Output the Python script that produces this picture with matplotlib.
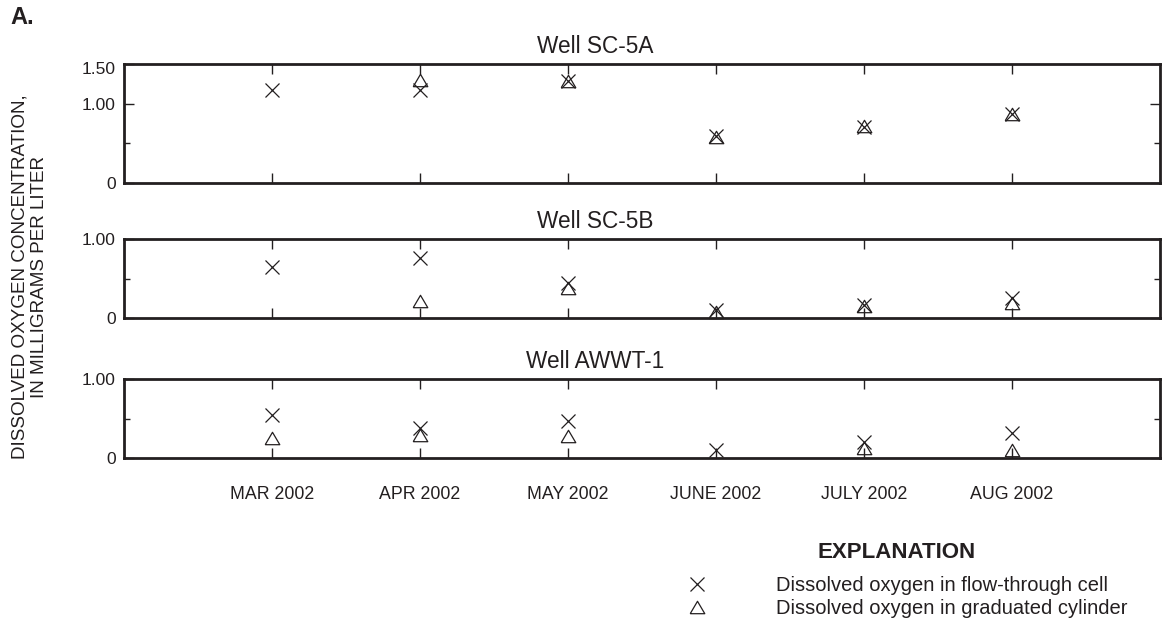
import numpy as np
import matplotlib
matplotlib.use("Agg")
import matplotlib.pyplot as plt
from matplotlib.ticker import FixedLocator
from matplotlib.transforms import ScaledTranslation

plt.rcParams['font.family'] = ['Liberation Sans', 'DejaVu Sans']

months = ['MAR 2002', 'APR 2002', 'MAY 2002', 'JUNE 2002', 'JULY 2002', 'AUG 2002']
wells = ['Well SC-5A', 'Well SC-5B', 'Well AWWT-1']

sc5a_flow = [1.17, 1.17, 1.29, 0.595, 0.70, 0.87]
sc5a_cyl = [np.nan, 1.30, 1.29, 0.58, 0.72, 0.87]
sc5b_flow = [0.65, 0.76, 0.44, 0.10, 0.17, 0.26]
sc5b_cyl = [np.nan, 0.22, 0.38, 0.08, 0.155, 0.19]
awwt_flow = [0.55, 0.38, 0.47, 0.105, 0.20, 0.32]
awwt_cyl = [0.25, 0.29, 0.28, np.nan, 0.13, 0.105]

flow = [sc5a_flow, sc5b_flow, awwt_flow]
cyl = [sc5a_cyl, sc5b_cyl, awwt_cyl]
ymax = [1.5, 1.0, 1.0]
major = [[0, 1.0, 1.5], [0, 1.0], [0, 1.0]]
major_lbl = [['0', '1.00', '1.50'], ['0', '1.00'], ['0', '1.00']]
minor = [[0.5], [0.5], [0.5]]

W, H = 1165, 627
fig = plt.figure(figsize=(W / 100, H / 100), dpi=100)

# axes pixel boxes (left, top, right, bottom)
boxes = [(124, 64, 1160, 183), (124, 239, 1160, 318.3), (124, 379, 1160, 458.3)]
ink = '#231f20'
tri = [(-1, -0.85), (1, -0.85), (0, 0.85), (-1, -0.85)]

x = np.arange(1, len(months) + 1)
lines_for_legend = None
for i, (l, t, r, b) in enumerate(boxes):
    ax = fig.add_axes([l / W, 1 - b / H, (r - l) / W, (b - t) / H])
    hx, = ax.plot(x, flow[i], linestyle='none', marker='x', markersize=10,
                  markeredgewidth=0.9, color=ink, clip_on=False)
    ht, = ax.plot(x, cyl[i], linestyle='none', marker=tri, markersize=10.5,
                  markeredgewidth=0.9, markerfacecolor='none', markeredgecolor=ink, clip_on=False)
    if lines_for_legend is None:
        lines_for_legend = (hx, ht)
    ax.set_xlim(0, len(months) + 1)
    ax.set_ylim(0, ymax[i])
    ax.set_xticks(x)
    if i == 2:
        ax.set_xticklabels(months, fontsize=12.8, color=ink)
    else:
        ax.set_xticklabels([])
    ax.yaxis.set_major_locator(FixedLocator(major[i]))
    ax.set_yticklabels(major_lbl[i], fontsize=12.5, color=ink)
    ax.yaxis.set_minor_locator(FixedLocator(minor[i]))
    ax.tick_params(axis='x', which='major', direction='in', top=True, bottom=True,
                   length=7.5, width=1.0, color=ink, pad=20)
    ax.tick_params(axis='y', which='major', direction='in', left=True, right=True,
                   length=7.2, width=1.0, color=ink, pad=6)
    ax.tick_params(axis='y', which='minor', direction='in', left=True, right=True,
                   length=4.3, width=1.0, color=ink)
    for s in ax.spines.values():
        s.set_linewidth(2.0)
        s.set_color(ink)
    if i == 0:
        top_lbl = ax.get_yticklabels()[-1]
        top_lbl.set_transform(top_lbl.get_transform() +
                              ScaledTranslation(0, -4 / 100, fig.dpi_scale_trans))
    fig.text(595 / W, 1 - (t - 11) / H, wells[i], ha='center', va='baseline',
             fontsize=16.3, color=ink)

fig.text(10 / W, 1 - 24 / H, 'A.', ha='left', va='baseline', fontsize=17,
         fontweight='bold', color=ink)

fig.text(30 / W, 1 - 277 / H,
         'DISSOLVED OXYGEN CONCENTRATION,\nIN MILLIGRAMS PER LITER',
         rotation=90, ha='center', va='center', multialignment='center',
         fontsize=13.6, color=ink, linespacing=1.2)

fig.text(897 / W, 1 - 553 / H, 'EXPLANATION', ha='center', va='center',
         fontsize=16, fontweight='bold', color=ink)

leg = fig.legend(lines_for_legend,
                 ['Dissolved oxygen in flow-through cell',
                  'Dissolved oxygen in graduated cylinder'],
                 loc='upper left', bbox_to_anchor=(687 / W, 1 - 576 / H),
                 frameon=False, fontsize=14.5, handlelength=1.0,
                 handletextpad=3.43, labelspacing=0.2, borderpad=0,
                 borderaxespad=0)
for txt in leg.get_texts():
    txt.set_color(ink)

fig.savefig('out.png', dpi=100)
